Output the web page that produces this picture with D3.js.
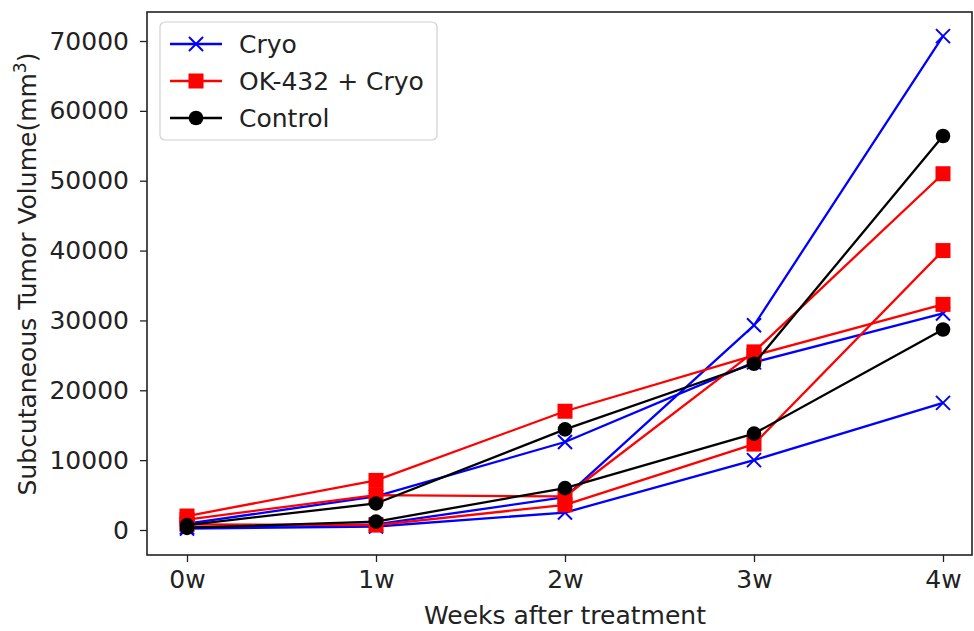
<!DOCTYPE html>
<html>
<head>
<meta charset="utf-8">
<script src="https://cdn.jsdelivr.net/npm/d3@7"></script>
<style>
  html, body { margin: 0; padding: 0; background: #fff; }
  svg { display: block; font-family: "DejaVu Sans", sans-serif; }
</style>
</head>
<body>
<svg id="chart" width="974" height="631"></svg>
<script>
// ---- data ----
const weeks = ["0w", "1w", "2w", "3w", "4w"];
const cryo = [
  [400, 800, 4700, 29300, 70700],
  [900, 4800, 12600, 24000, 31000],
  [200, 500, 2500, 10000, 18200]
];
const okCryo = [
  [2000, 7100, 17000, 25000, 32300],
  [1500, 5000, 4800, 25500, 51000],
  [800, 700, 3600, 12300, 40000]
];
const control = [
  [700, 3800, 14400, 23800, 56400],
  [300, 1200, 6000, 13800, 28700]
];
const seriesNames = ["Cryo", "OK-432 + Cryo", "Control"];
const yTicks = [0, 10000, 20000, 30000, 40000, 50000, 60000, 70000];
const xLabel = "Weeks after treatment";

// ---- layout ----
const svg = d3.select("#chart");
const box = { left: 147, right: 972, top: 12, bottom: 555 };
const x = d3.scalePoint().domain(weeks).range([187, 943]);
const y = d3.scaleLinear().domain([0, 70000]).range([530, 41]);
const FS = 25;

const series = [
  { name: seriesNames[0], color: "#0000ff", marker: "x", lines: cryo },
  { name: seriesNames[1], color: "#ff0000", marker: "square", lines: okCryo },
  { name: seriesNames[2], color: "#000000", marker: "circle", lines: control }
];

function drawMarker(g, type, cx, cy, color) {
  if (type === "x") {
    const s = 7;
    g.append("path")
      .attr("d", `M${cx - s},${cy - s}L${cx + s},${cy + s}M${cx - s},${cy + s}L${cx + s},${cy - s}`)
      .attr("stroke", color).attr("stroke-width", 2).attr("fill", "none");
  } else if (type === "square") {
    const s = 7.5;
    g.append("rect").attr("x", cx - s).attr("y", cy - s)
      .attr("width", 2 * s).attr("height", 2 * s).attr("fill", color);
  } else {
    g.append("circle").attr("cx", cx).attr("cy", cy).attr("r", 7.3).attr("fill", color);
  }
}

const line = d3.line().x((d, i) => x(weeks[i])).y(d => y(d));

const plot = svg.append("g");
series.forEach(s => {
  s.lines.forEach(vals => {
    const g = plot.append("g");
    g.append("path").attr("d", line(vals)).attr("fill", "none")
      .attr("stroke", s.color).attr("stroke-width", 2.3).attr("stroke-linejoin", "round");
    vals.forEach((v, i) => drawMarker(g, s.marker, x(weeks[i]), y(v), s.color));
  });
});

// ---- axes ----
const xAxis = d3.axisBottom(x).tickSizeOuter(0).tickSize(7).tickPadding(8);
const gx = svg.append("g").attr("transform", `translate(0,${box.bottom})`).call(xAxis);
gx.select(".domain").remove();
gx.selectAll("line").attr("stroke", "#222").attr("stroke-width", 1.3);
gx.selectAll("text").attr("font-size", FS).attr("fill", "#222").attr("font-family", "DejaVu Sans");

const yAxis = d3.axisLeft(y).tickValues(yTicks).tickFormat(d3.format("d")).tickSizeOuter(0).tickSize(7).tickPadding(11);
const gy = svg.append("g").attr("transform", `translate(${box.left},0)`).call(yAxis);
gy.select(".domain").remove();
gy.selectAll("line").attr("stroke", "#222").attr("stroke-width", 1.3);
gy.selectAll("text").attr("font-size", FS).attr("fill", "#222").attr("font-family", "DejaVu Sans");

// frame
svg.append("rect").attr("x", box.left).attr("y", box.top)
  .attr("width", box.right - box.left).attr("height", box.bottom - box.top)
  .attr("fill", "none").attr("stroke", "#222").attr("stroke-width", 1.6);

// axis labels
svg.append("text").attr("x", 565).attr("y", 624)
  .attr("text-anchor", "middle").attr("font-size", FS).attr("fill", "#222").text(xLabel);

const yl = svg.append("text").attr("transform", "translate(36,274) rotate(-90)")
  .attr("text-anchor", "middle").attr("font-size", FS).attr("fill", "#222");
yl.append("tspan").text("Subcutaneous Tumor Volume(mm");
yl.append("tspan").attr("font-size", 17).attr("dy", -10).text("3");
yl.append("tspan").attr("dy", 10).text(")");

// legend
const lg = svg.append("g");
lg.append("rect").attr("x", 160).attr("y", 22).attr("width", 277).attr("height", 118)
  .attr("rx", 5).attr("fill", "#fff").attr("fill-opacity", 0.85)
  .attr("stroke", "#d0d0d0").attr("stroke-width", 1.2);
series.forEach((s, i) => {
  const ly = 44 + i * 37;
  lg.append("line").attr("x1", 170).attr("x2", 222).attr("y1", ly).attr("y2", ly)
    .attr("stroke", s.color).attr("stroke-width", 2.3);
  drawMarker(lg, s.marker, 196, ly, s.color);
  lg.append("text").attr("x", 239).attr("y", ly).attr("dy", "0.36em")
    .attr("font-size", FS).attr("fill", "#222").text(s.name);
});
</script>
</body>
</html>
